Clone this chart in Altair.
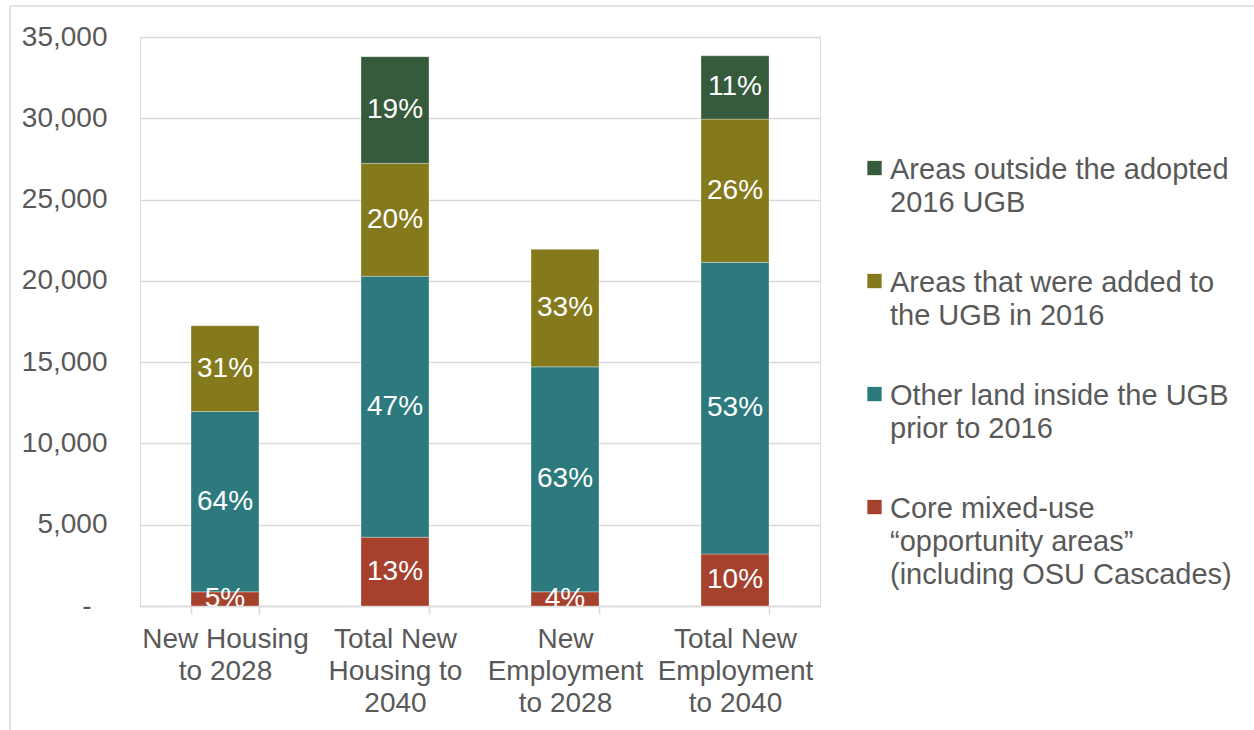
import altair as alt
import pandas as pd

# ---- data ----
categories = [
    "New Housing|to 2028",
    "Total New|Housing to|2040",
    "New|Employment|to 2028",
    "Total New|Employment|to 2040",
]
series = [
    "Areas outside the adopted|2016 UGB",
    "Areas that were added to|the UGB in 2016",
    "Other land inside the UGB|prior to 2016",
    "Core mixed-use|\u201copportunity areas\u201d|(including OSU Cascades)",
]
colors = ["#355A3C", "#847A1C", "#2C7A7E", "#A6412E"]
stack_order = [3, 2, 1, 0]

dark = [0, 6560, 0, 3890]
olive = [5280, 6950, 7230, 8810]
teal = [11090, 16050, 13840, 17940]
red = [870, 4230, 870, 3200]

dark_pct = ["", "19%", "", "11%"]
olive_pct = ["31%", "20%", "33%", "26%"]
teal_pct = ["64%", "47%", "63%", "53%"]
red_pct = ["5%", "13%", "4%", "10%"]

y_ticks = [0, 5000, 10000, 15000, 20000, 25000, 30000, 35000]

values_by_series = [dark, olive, teal, red]
pct_by_series = [dark_pct, olive_pct, teal_pct, red_pct]

rows = []
for s, vals, pcts, o in zip(series, values_by_series, pct_by_series, stack_order):
    for c, v, p in zip(categories, vals, pcts):
        if v > 0:
            rows.append({"category": c, "series": s, "value": v, "pct": p, "order": o})
df = pd.DataFrame(rows)

GRAY = "#595959"
GRID = "#d9d9d9"
FS = 28
LFS = 29

base = alt.Chart(df).transform_stack(
    stack="value",
    groupby=["category"],
    sort=[alt.SortField(field="order", order="ascending")],
    as_=["y0", "y1"],
).transform_calculate(ymid="(datum.y0 + datum.y1) / 2")

x_enc = alt.X(
    "category:N",
    sort=categories,
    scale=alt.Scale(paddingInner=0.6, paddingOuter=0.3),
    axis=alt.Axis(
        title=None,
        labelAngle=0,
        labelExpr="split(datum.label, '|')",
        labelFontSize=FS,
        labelColor=GRAY,
        labelLineHeight=32,
        labelBaseline="top",
        labelPadding=11,
        labelLimit=400,
        ticks=True,
        tickBand="extent",
        tickSize=8,
        tickColor=GRID,
        tickWidth=1.5,
        domain=True,
        domainColor=GRID,
        domainWidth=1.5,
        grid=False,
    ),
)

y_scale = alt.Scale(domain=[0, 35000], nice=False)

bars = base.mark_bar(stroke="white", strokeWidth=0.6, strokeOpacity=0.5).encode(
    x=x_enc,
    y=alt.Y(
        "y0:Q",
        scale=y_scale,
        axis=alt.Axis(
            title=None,
            values=y_ticks,
            labelExpr="datum.value == 0 ? '-' : format(datum.value, ',')",
            labelFontSize=FS,
            labelColor=GRAY,
            labelPadding={"condition": {"test": "datum.value == 0", "value": 49}, "value": 33},
            ticks=False,
            domain=False,
            grid=True,
            gridColor=GRID,
            gridWidth=1.5,
        ),
    ),
    y2="y1:Q",
    color=alt.Color(
        "series:N",
        scale=alt.Scale(domain=series, range=colors),
        legend=alt.Legend(
            title=None,
            orient="none",
            direction="vertical",
            legendX=720,
            legendY=104,
            labelExpr="split(datum.label, '|')",
            labelFontSize=LFS,
            labelColor=GRAY,
            labelLimit=600,
            labelBaseline="top",
            labelOffset=1,
            symbolType="M-1,0.75H1V2.75H-1Z",
            symbolSize=205,
            symbolStrokeWidth=0,
            symbolOpacity=1,
            rowPadding=36,
            padding=0,
        ),
    ),
    order=alt.Order("order:Q", sort="ascending"),
)

labels = base.mark_text(
    color="white", fontSize=FS, baseline="middle", align="center", clip=True
).encode(
    x=alt.X("category:N", sort=categories),
    y=alt.Y("ymid:Q", scale=y_scale),
    text="pct:N",
)

frame_df = pd.DataFrame({"k": [0]})
frame_top = alt.Chart(frame_df).mark_rule(color=GRID, strokeWidth=1.5).encode(
    x=alt.value(-130), x2=alt.value(1130), y=alt.value(-31)
)
frame_left = alt.Chart(frame_df).mark_rule(color=GRID, strokeWidth=1.5).encode(
    x=alt.value(-130), y=alt.value(-31), y2=alt.value(720)
)

chart = (
    alt.layer(frame_top, frame_left, bars, labels)
    .properties(
        width=680,
        height=569,
        autosize=alt.AutoSizeParams(type="none"),
        padding={"left": 140, "top": 37, "right": 434, "bottom": 124},
        background="white",
    )
    .configure_view(stroke=None)
    .configure(font="Liberation Sans", style={"guide-label": {"lineHeight": 33}})
)

chart.save("out.html", embed_options={"renderer": "svg", "actions": False})
